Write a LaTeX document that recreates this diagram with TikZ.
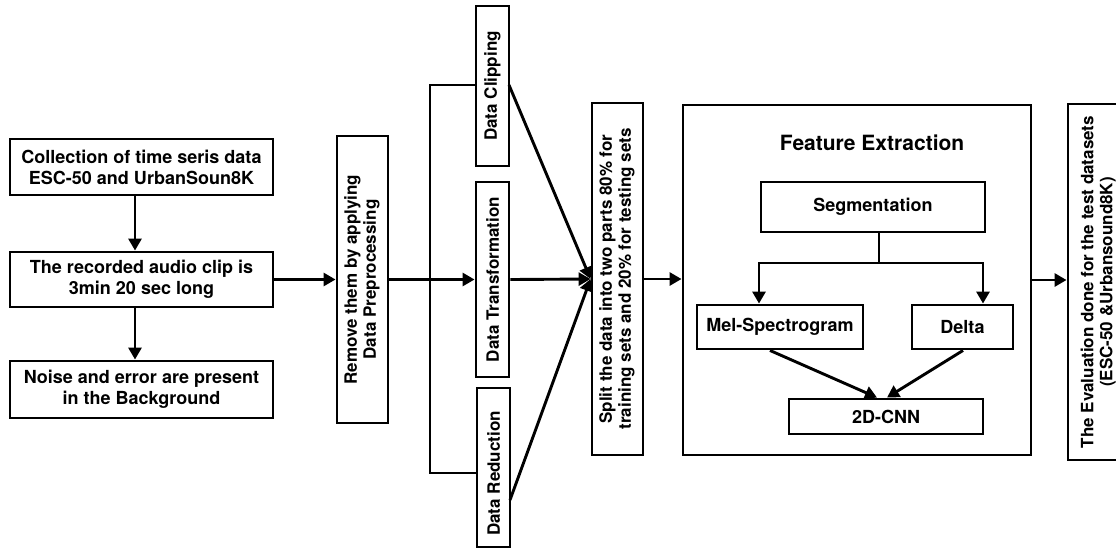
\documentclass[tikz,border=0pt]{standalone}
\usepackage{fontspec}
\setmainfont{TeX Gyre Heros}
\usetikzlibrary{arrows.meta}
\begin{document}
\begin{tikzpicture}[x=1pt,y=-1pt,
  line width=2.9pt,
  box/.style={draw=black,line width=2.9pt,fill=white,inner sep=0pt,align=center,
    font=\fontsize{18}{21}\selectfont\bfseries},
  vbox/.style={box,font=\fontsize{17}{19}\selectfont\bfseries},
  arr/.style={-{Triangle[length=12pt,width=13pt]}},
  title/.style={font=\fontsize{21}{24}\selectfont\bfseries}]
\useasboundingbox (0,0) rectangle (1116,550);
\begin{scope}
\clip (0,0) rectangle (1116,550);
% left column
\node[box,minimum width=263,minimum height=56] (b1) at (141.5,167) {Collection of time seris data\\ESC-50 and UrbanSoun8K};
\node[box,minimum width=263,minimum height=55] (b2) at (141.5,279.5) {The recorded audio clip is\\3min 20 sec long};
\node[box,minimum width=263,minimum height=57] (b3) at (141.5,389.5) {Noise and error are present\\in the Background};
% preprocessing
\node[vbox,minimum width=51,minimum height=287] (pre) at (362.5,279.5) {\rotatebox{90}{\begin{tabular}{@{}c@{}}Remove them by applying\\Data Preprocessing\end{tabular}}};
% three steps
\node[vbox,minimum width=33,minimum height=160] (dclip) at (492.5,86) {\rotatebox{90}{Data Clipping}};
\node[vbox,minimum width=33,minimum height=195] (dtrans) at (492.5,279.5) {\rotatebox{90}{Data Transformation}};
\node[vbox,minimum width=33,minimum height=159] (dred) at (493.5,467.5) {\rotatebox{90}{Data Reduction\hspace*{12pt}}};
% split
\node[vbox,minimum width=51,minimum height=352] (split) at (617.5,279) {\rotatebox{90}{\begin{tabular}{@{}c@{}}Split the data into two parts 80\% for\\training sets and 20\% for testing sets\end{tabular}}};
% feature extraction
\node[box,minimum width=348,minimum height=350] (fe) at (857,280) {};
\node[title] (fet) at (872,143) {Feature Extraction};
\node[box,minimum width=224,minimum height=50] (seg) at (873,207) {Segmentation};
\node[box,minimum width=166,minimum height=44] (mel) at (780,327) {Mel-Spectrogram};
\node[box,minimum width=101,minimum height=44] (delta) at (962.5,327) {Delta};
\node[box,minimum width=194,minimum height=35] (cnn) at (886,416.5) {2D-CNN};
% evaluation
\node[box,minimum width=120,minimum height=356] (evbox) at (1128,282) {};
\node[vbox,draw=none,fill=none] (ev) at (1099,282) {\rotatebox{90}{\begin{tabular}{@{}c@{}}The Evaluation done for the test datasets\\(ESC-50 \&Urbansound8K)\end{tabular}}};
% connectors
\draw[arr] ([xshift=-6.5pt]b1.south) -- ([xshift=-6.5pt]b2.north);
\draw[arr] ([xshift=-6.5pt]b2.south) -- ([xshift=-6.5pt]b3.north);
\draw[arr] (b2.east) -- (pre.west);
\draw[arr] (pre.east) -- (dtrans.west);
\coordinate (bt) at (430,85);
\coordinate (bb) at (430,473);
\draw (dclip.west |- bt) -- (bt) -- (bb) -- (dred.west |- bb);
\coordinate (cl) at (509,85);
\coordinate (rd) at (510,500);
\draw[arr] (cl) -- (split.west);
\draw[arr] (dtrans.east) -- (split.west);
\draw[arr] (rd) -- (split.west);
\draw[arr] (split.east) -- (split.east -| fe.west);
\draw[arr] (fe.east) -- (fe.east -| evbox.west);
\coordinate (j) at (879,263);
\coordinate (jl) at (759,263);
\coordinate (jr) at (983,263);
\draw (seg.south -| j) -- (j);
\draw[arr] (j) -- (jl) -- (jl |- mel.north);
\draw[arr] (j) -- (jr) -- (jr |- delta.north);
\draw[arr] ([xshift=-10pt]mel.south) -- ([xshift=-9pt]cnn.north);
\draw[arr] ([xshift=0.5pt]delta.south) -- ([xshift=1pt]cnn.north);
\end{scope}
\end{tikzpicture}
\end{document}
